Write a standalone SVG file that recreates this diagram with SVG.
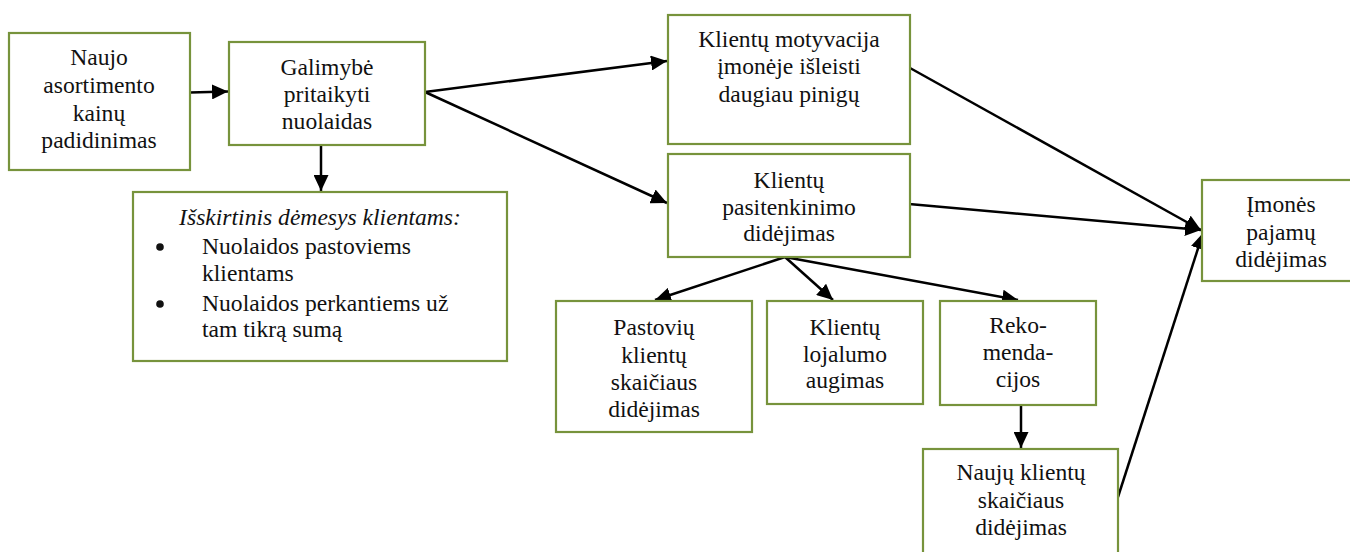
<svg xmlns="http://www.w3.org/2000/svg" width="1350" height="552" viewBox="0 0 1350 552">
  <defs>
    <marker id="arrow" markerUnits="userSpaceOnUse" markerWidth="16" markerHeight="15" refX="16" refY="7.5" orient="auto">
      <path d="M0,0 L16,7.5 L0,15 z" fill="#000"/>
    </marker>
  </defs>
  <style>
    .box { fill: #fff; stroke: #77933C; stroke-width: 2.2; }
    .t { text-anchor: middle; }
    .link { stroke: #000; stroke-width: 2.5; fill: none; marker-end: url(#arrow); }
  </style>
  <rect width="1350" height="552" fill="#fff"/>

  <!-- connectors -->
  <g id="connectors">
    <line class="link" x1="190" y1="92.5" x2="228" y2="91.5"/>
    <line class="link" x1="321" y1="145" x2="321" y2="191"/>
    <line class="link" x1="425" y1="92" x2="667" y2="61"/>
    <line class="link" x1="425" y1="92" x2="667" y2="203"/>
    <line class="link" x1="785" y1="257" x2="655" y2="300"/>
    <line class="link" x1="785" y1="257" x2="833" y2="300"/>
    <line class="link" x1="785" y1="257" x2="1018" y2="300"/>
    <line class="link" x1="1021" y1="405" x2="1021" y2="448"/>
    <line class="link" x1="910" y1="68" x2="1201" y2="230"/>
    <line class="link" x1="909" y1="204" x2="1201" y2="230"/>
    <line class="link" x1="1118" y1="497" x2="1203" y2="233"/>
  </g>

  <!-- nodes: all labels set in Liberation Serif -->
  <g font-family="Liberation Serif" font-size="23.6" fill="#111">
    <g id="n-kainos">
      <rect class="box" x="9" y="33" width="181" height="137"/>
      <text class="t" x="99" y="65">Naujo</text>
      <text class="t" x="99" y="93">asortimento</text>
      <text class="t" x="99" y="121">kainų</text>
      <text class="t" x="99" y="148">padidinimas</text>
    </g>

    <g id="n-nuolaidos">
      <rect class="box" x="229" y="42" width="196" height="103"/>
      <text class="t" x="327" y="75">Galimybė</text>
      <text class="t" x="327" y="102">pritaikyti</text>
      <text class="t" x="327" y="129">nuolaidas</text>
    </g>

    <g id="n-demesys">
      <rect class="box" x="133" y="192" width="374" height="169"/>
      <text class="t" x="320" y="225" font-style="italic">Išskirtinis dėmesys klientams:</text>
      <circle cx="160" cy="247" r="3.8"/>
      <text x="202" y="254">Nuolaidos pastoviems</text>
      <text x="202" y="281">klientams</text>
      <circle cx="160" cy="304" r="3.8"/>
      <text x="202" y="311">Nuolaidos perkantiems už</text>
      <text x="202" y="337">tam tikrą sumą</text>
    </g>

    <g id="n-motyvacija">
      <rect class="box" x="668" y="15" width="242" height="129"/>
      <text class="t" x="789" y="47">Klientų motyvacija</text>
      <text class="t" x="789" y="74">įmonėje išleisti</text>
      <text class="t" x="789" y="102">daugiau pinigų</text>
    </g>

    <g id="n-pasitenkinimas">
      <rect class="box" x="668" y="154" width="242" height="103"/>
      <text class="t" x="789" y="188">Klientų</text>
      <text class="t" x="789" y="215">pasitenkinimo</text>
      <text class="t" x="789" y="241">didėjimas</text>
    </g>

    <g id="n-pastoviu">
      <rect class="box" x="556" y="301" width="196" height="131"/>
      <text class="t" x="654" y="335">Pastovių</text>
      <text class="t" x="654" y="363">klientų</text>
      <text class="t" x="654" y="390">skaičiaus</text>
      <text class="t" x="654" y="417">didėjimas</text>
    </g>

    <g id="n-lojalumas">
      <rect class="box" x="767" y="301" width="156" height="103"/>
      <text class="t" x="845" y="335">Klientų</text>
      <text class="t" x="845" y="362">lojalumo</text>
      <text class="t" x="845" y="388">augimas</text>
    </g>

    <g id="n-rekomendacijos">
      <rect class="box" x="940" y="301" width="156" height="104"/>
      <text class="t" x="1018" y="333">Reko-</text>
      <text class="t" x="1018" y="360">menda-</text>
      <text class="t" x="1018" y="387">cijos</text>
    </g>

    <g id="n-nauji">
      <rect class="box" x="923" y="449" width="195" height="112"/>
      <text class="t" x="1021" y="480">Naujų klientų</text>
      <text class="t" x="1021" y="508">skaičiaus</text>
      <text class="t" x="1021" y="535">didėjimas</text>
    </g>

    <g id="n-pajamos">
      <rect class="box" x="1202" y="180" width="160" height="101"/>
      <text class="t" x="1281" y="212">Įmonės</text>
      <text class="t" x="1281" y="240">pajamų</text>
      <text class="t" x="1281" y="267">didėjimas</text>
    </g>
  </g>
</svg>
